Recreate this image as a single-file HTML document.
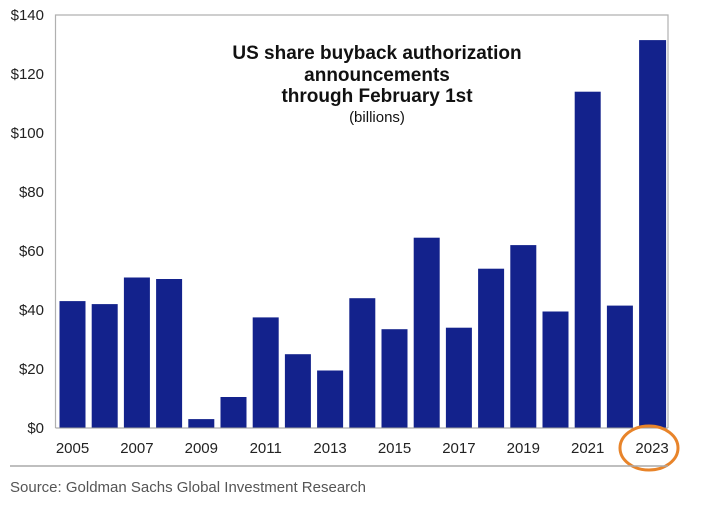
<!DOCTYPE html>
<html><head><style>
body{margin:0;background:#fff;}
svg text{font-family:"Liberation Sans",sans-serif;}
</style></head><body>
<svg width="707" height="500" viewBox="0 0 707 500" xmlns="http://www.w3.org/2000/svg">
<rect width="707" height="500" fill="#fff"/>
<g stroke="#b0b0b0" stroke-width="1.2" fill="none">
<polyline points="55.5,428 55.5,15 668,15 668,428"/>
</g>
<g fill="#13228c">
<rect x="59.5" y="301.1" width="26" height="126.9"/>
<rect x="91.7" y="304.1" width="26" height="123.9"/>
<rect x="123.9" y="277.5" width="26" height="150.5"/>
<rect x="156.1" y="279" width="26" height="149"/>
<rect x="188.3" y="419.1" width="26" height="8.9"/>
<rect x="220.5" y="397" width="26" height="31"/>
<rect x="252.7" y="317.4" width="26" height="110.6"/>
<rect x="284.9" y="354.2" width="26" height="73.8"/>
<rect x="317.1" y="370.5" width="26" height="57.5"/>
<rect x="349.3" y="298.2" width="26" height="129.8"/>
<rect x="381.5" y="329.2" width="26" height="98.8"/>
<rect x="413.7" y="237.7" width="26" height="190.3"/>
<rect x="445.9" y="327.7" width="26" height="100.3"/>
<rect x="478.1" y="268.7" width="26" height="159.3"/>
<rect x="510.3" y="245.1" width="26" height="182.9"/>
<rect x="542.5" y="311.5" width="26" height="116.5"/>
<rect x="574.7" y="91.7" width="26" height="336.3"/>
<rect x="606.9" y="305.6" width="26" height="122.4"/>
<rect x="639.1" y="40.1" width="27" height="387.9"/>
</g>
<line x1="55.5" y1="428" x2="668" y2="428" stroke="#999" stroke-width="1"/>
<g font-size="15" fill="#222" text-anchor="end">
<text x="44" y="20">$140</text>
<text x="44" y="79">$120</text>
<text x="44" y="138">$100</text>
<text x="44" y="197">$80</text>
<text x="44" y="256">$60</text>
<text x="44" y="315">$40</text>
<text x="44" y="374">$20</text>
<text x="44" y="433">$0</text>
</g>
<g font-size="15" fill="#222" text-anchor="middle">
<text x="72.5" y="453">2005</text>
<text x="136.9" y="453">2007</text>
<text x="201.3" y="453">2009</text>
<text x="265.7" y="453">2011</text>
<text x="330.1" y="453">2013</text>
<text x="394.5" y="453">2015</text>
<text x="458.9" y="453">2017</text>
<text x="523.3" y="453">2019</text>
<text x="587.7" y="453">2021</text>
<text x="652.1" y="453">2023</text>
</g>
<ellipse cx="649" cy="448" rx="29" ry="22" fill="none" stroke="#e8842a" stroke-width="3"/>
<line x1="10" y1="466" x2="668" y2="466" stroke="#aaa" stroke-width="1.5"/>
<text x="10" y="492" font-size="15" fill="#555">Source: Goldman Sachs Global Investment Research</text>
<g text-anchor="middle" fill="#111" font-weight="bold">
<text x="377" y="59" font-size="19">US share buyback authorization</text>
<text x="377" y="81" font-size="19">announcements</text>
<text x="377" y="102" font-size="19">through February 1st</text>
<text x="377" y="122" font-size="15" font-weight="normal">(billions)</text>
</g>
</svg>
</body></html>
